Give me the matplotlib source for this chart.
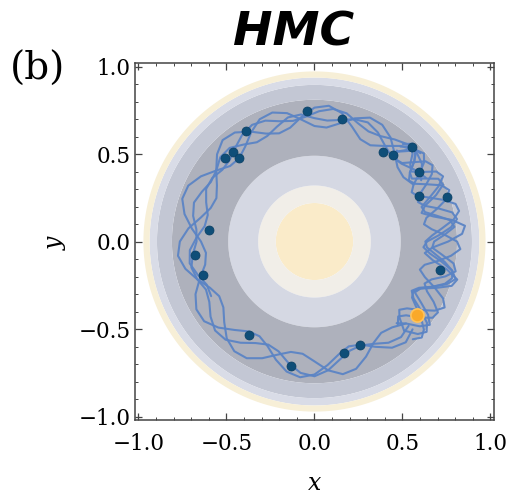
import numpy as np
import matplotlib
matplotlib.use("Agg")
import matplotlib.pyplot as plt
from matplotlib.ticker import MultipleLocator

# density bands of the ring-shaped target (radius boundaries)
band_edges = [0.0, 0.22, 0.32, 0.49, 0.81, 0.895, 0.937, 0.972]
band_colors = ["#FAEBC9", "#F1EEE8", "#D5D8E3", "#AEB1BC", "#C3C7D4", "#D9DCE7", "#F7EFD7"]

# HMC trajectories, (angle in degrees, radius)
traj_l1 = [(30, 0.70), (36, 0.755), (42, 0.775), (48, 0.735), (54, 0.675), (60, 0.635), (66, 0.64),
           (72, 0.69), (78, 0.75), (84, 0.78), (90, 0.765), (96, 0.715), (102, 0.665), (108, 0.65),
           (114, 0.675), (120, 0.725), (126, 0.77), (132, 0.78), (138, 0.745), (144, 0.69), (150, 0.64),
           (156, 0.61), (162, 0.62), (168, 0.66), (174, 0.72), (180, 0.765), (186, 0.78), (192, 0.75),
           (198, 0.70), (204, 0.65), (210, 0.625), (216, 0.64), (222, 0.69), (228, 0.745), (234, 0.775),
           (240, 0.77), (246, 0.73), (252, 0.68), (258, 0.645), (264, 0.645), (270, 0.685), (276, 0.74),
           (282, 0.775), (288, 0.765), (294, 0.72), (300, 0.67), (306, 0.645), (312, 0.66), (318, 0.70)]
traj_l2 = [(30, 0.65), (36, 0.625), (42, 0.635), (48, 0.68), (54, 0.735), (60, 0.77), (66, 0.775),
           (72, 0.74), (78, 0.69), (84, 0.655), (90, 0.66), (96, 0.70), (102, 0.75), (108, 0.775),
           (114, 0.765), (120, 0.72), (126, 0.67), (132, 0.64), (138, 0.645), (144, 0.69), (150, 0.745),
           (156, 0.785), (162, 0.79), (168, 0.755), (174, 0.70), (180, 0.645), (186, 0.62), (192, 0.635),
           (198, 0.685), (204, 0.74), (210, 0.775), (216, 0.775), (222, 0.735), (228, 0.68), (234, 0.635),
           (240, 0.625), (246, 0.655), (252, 0.71), (258, 0.76), (264, 0.78), (270, 0.76), (276, 0.71),
           (282, 0.66), (288, 0.63), (294, 0.645), (300, 0.695), (306, 0.75), (312, 0.775), (318, 0.75)]
traj_l3 = [(30, 0.73), (36, 0.70), (42, 0.665), (48, 0.655), (54, 0.68), (60, 0.72), (66, 0.745),
           (72, 0.735), (78, 0.71), (84, 0.695), (90, 0.705), (96, 0.73), (102, 0.725), (108, 0.69),
           (114, 0.66), (120, 0.655), (126, 0.685), (132, 0.72), (138, 0.72), (144, 0.69), (150, 0.68),
           (156, 0.70), (162, 0.72), (168, 0.705), (174, 0.675), (180, 0.67), (186, 0.695), (192, 0.715),
           (198, 0.70), (204, 0.675), (210, 0.69), (216, 0.73), (222, 0.76), (228, 0.755), (234, 0.715),
           (240, 0.67), (246, 0.645), (252, 0.66), (258, 0.71), (264, 0.755), (270, 0.77), (276, 0.74),
           (282, 0.69), (288, 0.655), (294, 0.65), (300, 0.675), (306, 0.715), (312, 0.735), (318, 0.72)]
traj_l4 = [(40, 0.785), (46, 0.77), (52, 0.74), (58, 0.71), (64, 0.70), (70, 0.72), (76, 0.755),
           (82, 0.765), (88, 0.745), (94, 0.715), (100, 0.70), (106, 0.715), (112, 0.745), (118, 0.755),
           (124, 0.735), (130, 0.70), (136, 0.67), (142, 0.665), (148, 0.685), (154, 0.685), (160, 0.655),
           (166, 0.625), (172, 0.63), (178, 0.67), (184, 0.71), (190, 0.72), (196, 0.69), (202, 0.66),
           (208, 0.665)]
traj_r1 = [(-45, 0.72), (-42, 0.79), (-39, 0.82), (-36, 0.79), (-33, 0.72), (-30, 0.65), (-27, 0.62),
           (-24, 0.65), (-21, 0.72), (-18, 0.79), (-15, 0.83), (-12, 0.80), (-9, 0.73), (-6, 0.66),
           (-3, 0.62), (0, 0.64), (3, 0.71), (6, 0.78), (9, 0.82), (12, 0.80), (15, 0.73), (18, 0.66),
           (21, 0.63), (24, 0.65), (27, 0.71), (30, 0.77), (33, 0.80), (36, 0.78), (39, 0.72),
           (42, 0.67), (45, 0.66), (48, 0.70)]
traj_r2 = [(-45, 0.72), (-42, 0.65), (-39, 0.62), (-36, 0.65), (-33, 0.72), (-30, 0.79), (-27, 0.83),
           (-24, 0.80), (-21, 0.73), (-18, 0.66), (-15, 0.62), (-12, 0.64), (-9, 0.71), (-6, 0.78),
           (-3, 0.83), (0, 0.81), (3, 0.74), (6, 0.67), (9, 0.63), (12, 0.65), (15, 0.72), (18, 0.79),
           (21, 0.82), (24, 0.79), (27, 0.72), (30, 0.66), (33, 0.64), (36, 0.67), (39, 0.73),
           (42, 0.78), (45, 0.79), (48, 0.75)]
traj_r3 = [(-45, 0.66), (-42, 0.70), (-39, 0.77), (-36, 0.81), (-33, 0.77), (-30, 0.70), (-27, 0.64),
           (-24, 0.66), (-21, 0.74), (-18, 0.82), (-15, 0.84), (-12, 0.77), (-9, 0.68), (-6, 0.63),
           (-3, 0.67), (0, 0.76), (3, 0.84), (6, 0.86), (9, 0.79), (12, 0.69), (15, 0.63), (18, 0.66),
           (21, 0.74), (24, 0.80), (27, 0.79), (30, 0.72), (33, 0.66), (36, 0.67), (39, 0.73),
           (42, 0.77), (45, 0.74), (48, 0.69)]
traj_r4 = [(-45, 0.79), (-42, 0.82), (-39, 0.80), (-36, 0.75), (-33, 0.69), (-30, 0.64), (-27, 0.63),
           (-24, 0.66), (-21, 0.72), (-18, 0.78), (-15, 0.81), (-12, 0.80), (-9, 0.75), (-6, 0.69),
           (-3, 0.64), (0, 0.63), (3, 0.67), (6, 0.73), (9, 0.80), (12, 0.84), (15, 0.83), (18, 0.77),
           (21, 0.70), (24, 0.64), (27, 0.62), (30, 0.65), (33, 0.71), (36, 0.77), (39, 0.80),
           (42, 0.78), (45, 0.73), (48, 0.69)]
traj_r5 = [(-45, 0.67), (-42, 0.64), (-39, 0.67), (-36, 0.74), (-33, 0.80), (-30, 0.81), (-27, 0.76),
           (-24, 0.70), (-21, 0.67), (-18, 0.70), (-15, 0.77), (-12, 0.82), (-9, 0.80), (-6, 0.73),
           (-3, 0.67), (0, 0.68), (3, 0.74), (6, 0.80), (9, 0.78), (12, 0.71), (15, 0.65), (18, 0.64),
           (21, 0.70), (24, 0.77), (27, 0.82), (30, 0.80), (33, 0.73), (36, 0.68), (39, 0.70),
           (42, 0.75), (45, 0.77), (48, 0.73)]

# accepted samples
sample_x = [-0.04, 0.157, -0.39, -0.51, -0.465, -0.43, -0.60, 0.39, 0.447, 0.556,
            0.593, 0.593, 0.753, -0.68, -0.632, -0.374, -0.133, 0.714, 0.259, 0.166]
sample_y = [0.745, 0.70, 0.63, 0.48, 0.51, 0.475, 0.066, 0.51, 0.495, 0.54,
            0.40, 0.26, 0.253, -0.079, -0.192, -0.536, -0.712, -0.164, -0.589, -0.638]
last_x = [0.584]
last_y = [-0.419]

plt.rcParams['mathtext.fontset'] = 'dejavuserif'
fig = plt.figure(figsize=(5.08, 4.99), dpi=100)
ax = fig.add_axes([0.2657, 0.1583, 0.7067, 0.7154])

g = np.linspace(-1.05, 1.05, 901)
X, Y = np.meshgrid(g, g)
R = np.hypot(X, Y)
ax.contourf(X, Y, R, levels=band_edges, colors=band_colors, antialiased=True)

for tr in [traj_l1, traj_l2, traj_l3, traj_l4, traj_r1, traj_r2, traj_r3, traj_r4, traj_r5]:
    th = np.radians([p[0] for p in tr])
    rr = np.array([p[1] for p in tr])
    ax.plot(rr * np.cos(th), rr * np.sin(th), color="#5B84C5", lw=1.5, alpha=0.95,
            solid_joinstyle="round", solid_capstyle="round")

ax.plot(sample_x, sample_y, "o", color="#0F4E78", ms=6.5, mec="#0B3F63", mew=0.5, zorder=5)
ax.plot(last_x, last_y, "o", color="#F9A92A", ms=9.5, mec="#FFC35A", mew=1.2, zorder=6)

ax.set_xlim(-1.02, 1.02)
ax.set_ylim(-1.02, 1.02)
ax.xaxis.set_major_locator(MultipleLocator(0.5))
ax.yaxis.set_major_locator(MultipleLocator(0.5))
ax.xaxis.set_minor_locator(MultipleLocator(0.1))
ax.yaxis.set_minor_locator(MultipleLocator(0.1))
ax.tick_params(which="both", direction="in", top=True, right=True, color="#444444")
ax.tick_params(which="major", length=5, width=0.9)
ax.tick_params(which="minor", length=2.5, width=0.7)
ax.tick_params(axis="both", labelsize=15.5)
ax.tick_params(axis="x", pad=9)
ax.tick_params(axis="y", pad=3)
for lab in ax.get_xticklabels() + ax.get_yticklabels():
    lab.set_fontfamily("DejaVu Serif")
for sp in ax.spines.values():
    sp.set_color("#444444")
    sp.set_linewidth(1.1)

ax.set_xlabel("$x$", fontsize=17, labelpad=12)
ax.set_ylabel("$y$", fontsize=17, labelpad=8)
fig.text(0.577, 0.934, "HMC", fontsize=34, fontweight="bold", fontstyle="italic",
         family="DejaVu Sans", ha="center", va="center")
fig.text(0.02, 0.84, "(b)", fontsize=28, family="DejaVu Serif")

fig.savefig("out.png", dpi=100)
